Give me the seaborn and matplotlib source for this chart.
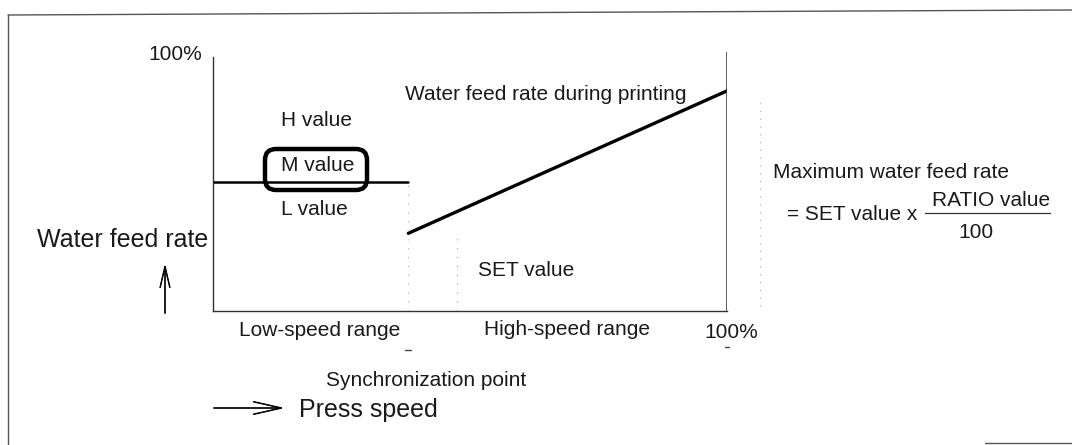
import matplotlib
matplotlib.use("Agg")
import matplotlib.pyplot as plt
from matplotlib.patches import FancyBboxPatch
from matplotlib.lines import Line2D
from matplotlib.transforms import IdentityTransform
import pandas as pd
import seaborn as sns

# Press speed (% of max) and water feed rate (% of max)
sync_point = 38.0            # synchronization point on the speed axis
set_speed = 47.5             # speed at which the SET value is marked
low_speed = [0.0, sync_point]
low_feed = [50.0, 50.0]      # M value held across the low-speed range
high_speed = [sync_point, 100.0]
high_feed = [30.0, 85.0]     # water feed rate during printing
set_feed = 28.0

level_labels = ["H value", "M value", "L value"]
level_values = [73.7, 56.0, 39.0]

sns.set_style("white")
plt.rcParams["font.family"] = ["Liberation Sans", "DejaVu Sans"]

W, H = 1072, 445
fig = plt.figure(figsize=(W / 100, H / 100), dpi=100)


def fx(x):
    return x / W


def fy(y):
    return (H - y) / H


ax = fig.add_axes([fx(213), fy(311), 514 / W, 259 / H])

low = pd.DataFrame({"speed": low_speed, "feed": low_feed})
high = pd.DataFrame({"speed": high_speed, "feed": high_feed})
sns.lineplot(data=low, x="speed", y="feed", ax=ax, color="black", lw=1.8)
sns.lineplot(data=high, x="speed", y="feed", ax=ax, color="black", lw=2.4)

ax.set_xlim(0, 100)
ax.set_ylim(0, 100)
ax.set_xticks([])
ax.set_yticks([])
ax.set_xlabel("")
ax.set_ylabel("")
for side in ("top", "right"):
    ax.spines[side].set_visible(False)
for side in ("left", "bottom"):
    ax.spines[side].set_color("#333333")
    ax.spines[side].set_linewidth(1.0)
ax.spines["left"].set_bounds(0, 98)

# full-speed boundary
ax.vlines(100, 0, 100, color="#333333", lw=1.1)
# dotted guides at the synchronization point and the SET value
ax.vlines(sync_point, 0, low_feed[0], color="#b0b0b0", lw=0.8, linestyles=(0, (1, 7)))
ax.vlines(set_speed, 0, set_feed, color="#a0a0a0", lw=0.8, linestyles=(0, (1, 7)))
# bracket showing the maximum feed rate span
ax.plot([106.4, 106.4], [2, high_feed[-1] - 2], color="#aaaaaa", lw=0.8,
        ls=(0, (1, 6)), clip_on=False)
# small ticks below the speed axis
ax.plot([sync_point - 0.6, sync_point + 0.6], [-15, -15], color="#444444", lw=1.0, clip_on=False)
ax.plot([100 - 0.4, 100 + 0.4], [-14, -14], color="#444444", lw=1.0, clip_on=False)

txt = "#1a1a1a"
small = 15
big = 18

ax.text(-2.1, 99.2, "100%", ha="right", va="center", fontsize=small, color=txt)
for lab, val in zip(level_labels, level_values):
    ax.text(13.2, val, lab, ha="left", va="center", fontsize=small, color=txt)

# rounded frame highlighting the M value
box = FancyBboxPatch((265, H - 190), 102, 41,
                     boxstyle="round,pad=0,rounding_size=11",
                     fc="none", ec="black", lw=3.2, transform=IdentityTransform())
fig.add_artist(box)

ax.text(37.3, 83.4, "Water feed rate during printing", ha="left", va="center",
        fontsize=small, color=txt)
ax.text(51.5, 15.8, "SET value", ha="left", va="center", fontsize=small, color=txt)
ax.text(20.7, -7.7, "Low-speed range", ha="center", va="center", fontsize=small, color=txt)
ax.text(68.9, -7.3, "High-speed range", ha="center", va="center", fontsize=small, color=txt)
ax.text(100.9, -8.3, "100%", ha="center", va="center", fontsize=small, color=txt)

fig.text(fx(208), fy(240), "Water feed rate", ha="right", va="center",
         fontsize=big, color=txt)
fig.text(fx(426), fy(381), "Synchronization point", ha="center", va="center",
         fontsize=small, color=txt)
fig.text(fx(299), fy(410), "Press speed", ha="left", va="center",
         fontsize=big, color=txt)

# axis direction arrows
fig.add_artist(plt.annotate("", xy=(fx(165), fy(261)), xytext=(fx(165), fy(316)),
                            xycoords="figure fraction", textcoords="figure fraction",
                            arrowprops=dict(arrowstyle="->,head_length=1.5,head_width=0.35",
                                            color="black", lw=0.9)))
fig.add_artist(plt.annotate("", xy=(fx(287), fy(408)), xytext=(fx(211), fy(408)),
                            xycoords="figure fraction", textcoords="figure fraction",
                            arrowprops=dict(arrowstyle="->,head_length=2.0,head_width=0.45",
                                            color="black", lw=0.9)))

# maximum feed rate formula
fig.text(fx(773), fy(172), "Maximum water feed rate", ha="left", va="center",
         fontsize=small, color=txt)
fig.text(fx(787), fy(215), "= SET value x", ha="left", va="center",
         fontsize=small, color=txt)
fig.text(fx(991), fy(201), "RATIO value", ha="center", va="center",
         fontsize=small, color=txt)
fig.add_artist(Line2D([fx(925), fx(1050)], [fy(213), fy(213)], color="#333333", lw=0.9))
fig.text(fx(976), fy(232), "100", ha="center", va="center", fontsize=small, color=txt)

# outer frame
frame = dict(color="#555555", lw=1.0)
fig.add_artist(Line2D([fx(8), fx(8)], [fy(15), fy(445)], **frame))
fig.add_artist(Line2D([fx(8), fx(1072)], [fy(15), fy(10)], **frame))
fig.add_artist(Line2D([fx(985), fx(1072)], [fy(443), fy(443)], **frame))

fig.savefig("out.png", dpi=100)
